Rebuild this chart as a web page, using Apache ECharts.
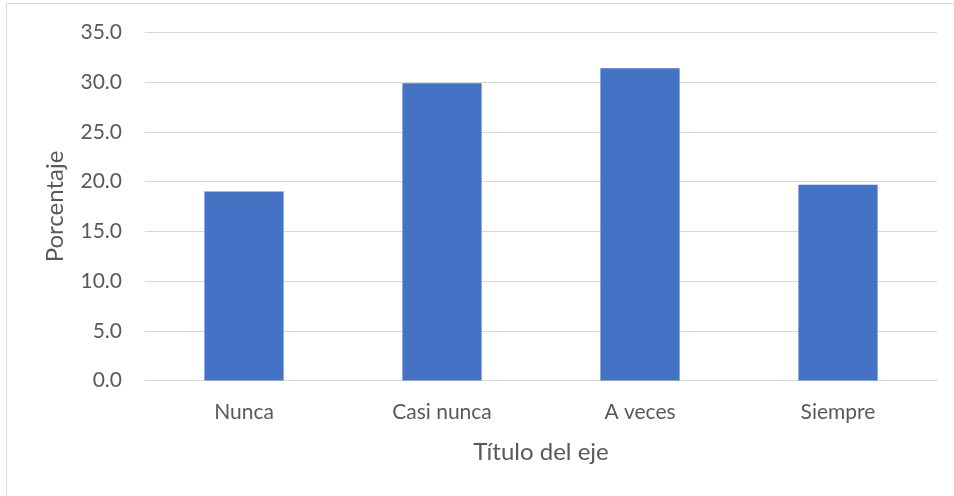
<!DOCTYPE html>
<html>
<head>
<meta charset="utf-8">
<script src="https://cdn.jsdelivr.net/npm/echarts@6/dist/echarts.min.js"></script>
<style>
  html, body { margin: 0; padding: 0; background: #ffffff; }
  #chart { width: 954px; height: 496px; }
</style>
</head>
<body>
<div id="chart"></div>
<script>
// Frequency categories and percentage of responses
const categories = ['Nunca', 'Casi nunca', 'A veces', 'Siempre'];
const percentages = [19.0, 29.9, 31.4, 19.7];
const yTicks = { min: 0, max: 35, interval: 5 };

const textColor = '#595959';
const fontFamily = 'Lato, "Open Sans", sans-serif';

const chart = echarts.init(document.getElementById('chart'), null, { renderer: 'canvas' });

chart.setOption({
  animation: false,
  backgroundColor: '#ffffff',
  graphic: [{
    type: 'rect',
    shape: { x: 6.5, y: 3.5, width: 1000, height: 1000 },
    style: { fill: 'none', stroke: '#d9d9d9', lineWidth: 1 },
    silent: true
  }],
  grid: { left: 145, right: 17, top: 32.5, bottom: 115.5, containLabel: false },
  xAxis: {
    type: 'category',
    data: categories,
    name: 'Título del eje',
    nameLocation: 'middle',
    nameGap: 60,
    nameTextStyle: { color: textColor, fontSize: 24, fontFamily: fontFamily },
    axisLine: { show: true, lineStyle: { color: '#d9d9d9', width: 1 } },
    axisTick: { show: false },
    axisLabel: { color: textColor, fontSize: 21, fontFamily: fontFamily, margin: 21 }
  },
  yAxis: {
    type: 'value',
    min: yTicks.min,
    max: yTicks.max,
    interval: yTicks.interval,
    name: 'Porcentaje',
    nameLocation: 'middle',
    nameGap: 78,
    nameTextStyle: { color: textColor, fontSize: 24, fontFamily: fontFamily },
    axisLine: { show: false },
    axisTick: { show: false },
    axisLabel: {
      color: textColor, fontSize: 21, fontFamily: fontFamily, margin: 23,
      formatter: v => v.toFixed(1)
    },
    splitLine: { lineStyle: { color: '#d9d9d9', width: 1 } }
  },
  series: [{
    type: 'bar',
    data: percentages,
    barWidth: '40%',
    itemStyle: { color: '#4472c4' }
  }]
});
</script>
</body>
</html>
